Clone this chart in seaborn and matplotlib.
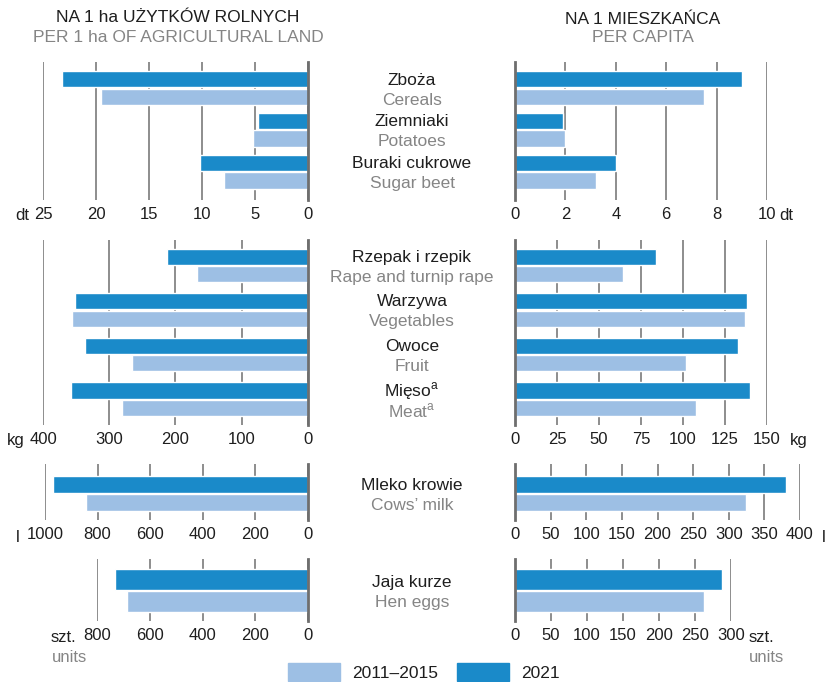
import matplotlib
matplotlib.use('Agg')
import matplotlib.pyplot as plt
import matplotlib.patches as mpatches
import matplotlib.transforms as mtrans
import numpy   as np
import pandas  as pd
import seaborn as sns

# ---- data ----
periods      = ['2021', '2011–2015']

crops_pl     = ['Zboża', 'Ziemniaki', 'Buraki cukrowe']
crops_en     = ['Cereals', 'Potatoes', 'Sugar beet']
crops_ha_21  = [23.2, 4.7, 10.2]
crops_ha_bs  = [19.5, 5.2, 7.9]
crops_cap_21 = [9.0, 1.9, 4.0]
crops_cap_bs = [7.5, 2.0, 3.2]

kg_pl        = ['Rzepak i rzepik', 'Warzywa', 'Owoce', 'Mięso$^{\\mathregular{a}}$']
kg_en        = ['Rape and turnip rape', 'Vegetables', 'Fruit', 'Meat$^{\\mathregular{a}}$']
kg_ha_21     = [213, 352, 337, 358]
kg_ha_bs     = [168, 356, 266, 281]
kg_cap_21    = [84, 138, 133, 140]
kg_cap_bs    = [64, 137, 102, 108]

milk_pl      = ['Mleko krowie']
milk_en      = ['Cows’ milk']
milk_ha_21   = [970]
milk_ha_bs   = [844]
milk_cap_21  = [380]
milk_cap_bs  = [324]

eggs_pl      = ['Jaja kurze']
eggs_en      = ['Hen eggs']
eggs_ha_21   = [731]
eggs_ha_bs   = [687]
eggs_cap_21  = [287]
eggs_cap_bs  = [262]

DARK, LIGHT = '#1a8ac9', '#9dbfe4'
GRID        = '#7a7a7a'
TXT, GREY   = '#1e1e1e', '#858585'
FS_TICK     = 12
FS_TEXT     = 12.5

sns.set_style('white')
plt.rcParams['font.family'] = ['Liberation Sans', 'DejaVu Sans']
plt.rcParams['mathtext.fontset'] = 'custom'
plt.rcParams['mathtext.rm'] = 'Liberation Sans'

W, H = 832, 682
fig = plt.figure(figsize=(W / 100, H / 100), dpi=100)


def px_axes(x0, x1, y0, y1):
    return fig.add_axes([x0 / W, 1 - y1 / H, (x1 - x0) / W, (y1 - y0) / H])


def panel(box, cats, v21, vbs, xmax, step, ylim, width, left):
    ax = px_axes(*box)
    df = pd.DataFrame({'cat'    : list(range(len(cats))) * 2,
                       'period' : [periods[0]] * len(cats) + [periods[1]] * len(cats),
                       'value'  : v21 + vbs})
    df['cat'] = df['cat'].astype(str)
    sns.barplot(data=df, y='cat', x='value', hue='period', hue_order=periods,
                palette=[DARK, LIGHT], orient='h', width=width, gap=0.06,
                saturation=1, legend=False, ax=ax)
    ax.set_xlim((xmax, 0) if left else (0, xmax))
    ax.set_ylim(*ylim)
    ax.set_xticks(np.arange(0, xmax + step / 2, step))
    ax.set_yticks([])
    ax.set_xlabel('')
    ax.set_ylabel('')
    ax.grid(axis='x', color=GRID, lw=1.2)
    ax.set_axisbelow(True)
    for s in ax.spines.values():
        s.set_visible(False)
    zero = ax.spines['right' if left else 'left']
    zero.set_visible(True)
    zero.set_color('#6e6e6e')
    zero.set_linewidth(2)
    ax.tick_params(axis='x', length=0, pad=5, labelsize=FS_TICK, labelcolor=TXT)
    ax.patch.set_alpha(0)
    return ax


def unit(ax, txt, xval, dx, dy, ha, color=TXT):
    ax.annotate(txt, xy=(xval, 0), xycoords=('data', 'axes fraction'),
                xytext=(dx, dy), textcoords='offset pixels',
                ha=ha, va='center', fontsize=FS_TICK, color=color)


def labels(ax, pl, en):
    tr = mtrans.blended_transform_factory(fig.transFigure, ax.transData)
    for i, (p, e) in enumerate(zip(pl, en)):
        ax.annotate(p, xy=(412 / W, i), xycoords=tr, xytext=(0, 8),
                    textcoords='offset pixels', ha='center', va='center',
                    fontsize=FS_TEXT, color=TXT, annotation_clip=False)
        ax.annotate(e, xy=(412 / W, i), xycoords=tr, xytext=(0, -12),
                    textcoords='offset pixels', ha='center', va='center',
                    fontsize=FS_TEXT, color=GREY, annotation_clip=False)


# crops, dt
a = panel((43, 308, 62, 200), crops_pl, crops_ha_21, crops_ha_bs, 25, 5, (2.67, -0.62), 0.82, True)
unit(a, 'dt', 25, -14, -16, 'right')
b = panel((515, 767, 62, 200), crops_pl, crops_cap_21, crops_cap_bs, 10, 2, (2.67, -0.62), 0.82, False)
unit(b, 'dt', 10, 12, -16, 'left')
labels(b, crops_pl, crops_en)

# kg products
a = panel((43, 308, 240, 425), kg_pl, kg_ha_21, kg_ha_bs, 400, 100, (3.58, -0.57), 0.78, True)
unit(a, 'kg', 400, -18, -16, 'right')
b = panel((515, 767, 240, 425), kg_pl, kg_cap_21, kg_cap_bs, 150, 25, (3.58, -0.57), 0.78, False)
unit(b, 'kg', 150, 23, -16, 'left')
labels(b, kg_pl, kg_en)

# milk, l
a = panel((45, 308, 464, 520), milk_pl, milk_ha_21, milk_ha_bs, 1000, 200, (0.58, -0.64), 0.8, True)
unit(a, 'l', 1000, -25, -17, 'right')
b = panel((515, 800, 464, 520), milk_pl, milk_cap_21, milk_cap_bs, 400, 50, (0.58, -0.64), 0.8, False)
unit(b, 'l', 400, 22, -17, 'left')
labels(b, milk_pl, milk_en)

# eggs, units
a = panel((97, 308, 559, 621), eggs_pl, eggs_ha_21, eggs_ha_bs, 800, 200, (0.56, -0.58), 0.8, True)
unit(a, 'szt.', 800, -46, -17, 'left')
unit(a, 'units', 800, -45, -36, 'left', GREY)
b = panel((515, 731, 559, 621), eggs_pl, eggs_cap_21, eggs_cap_bs, 300, 50, (0.56, -0.58), 0.8, False)
unit(b, 'szt.', 300, 18, -17, 'left')
unit(b, 'units', 300, 18, -36, 'left', GREY)
labels(b, eggs_pl, eggs_en)

# headers
fig.text(178 / W, 1 - 18 / H, 'NA 1 ha UŻYTKÓW ROLNYCH', ha='center', va='center', fontsize=FS_TEXT, color=TXT)
fig.text(178 / W, 1 - 38 / H, 'PER 1 ha OF AGRICULTURAL LAND', ha='center', va='center', fontsize=FS_TEXT, color=GREY)
fig.text(643 / W, 1 - 20 / H, 'NA 1 MIESZKAŃCA', ha='center', va='center', fontsize=FS_TEXT, color=TXT)
fig.text(643 / W, 1 - 38 / H, 'PER CAPITA', ha='center', va='center', fontsize=FS_TEXT, color=GREY)

# legend
handles = [mpatches.Patch(color=LIGHT, label=periods[1]),
           mpatches.Patch(color=DARK, label=periods[0])]
fig.legend(handles=handles, loc='center', bbox_to_anchor=(424 / W, 1 - 672 / H), ncol=2,
           frameon=False, fontsize=FS_TEXT, handlelength=3.0, handleheight=1.3,
           handletextpad=0.7, columnspacing=1.1, labelcolor=TXT)

fig.savefig('out.png', dpi=100)
